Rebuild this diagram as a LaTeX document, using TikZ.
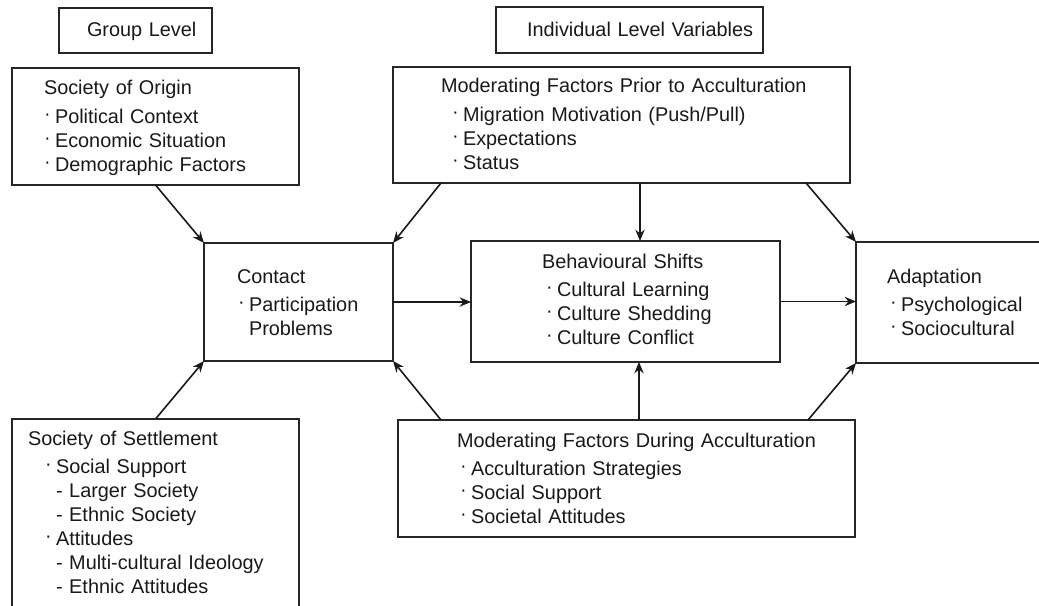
\documentclass[tikz,border=0pt]{standalone}
\usepackage{fontspec}
\setmainfont{Liberation Sans}
\usetikzlibrary{arrows.meta,fit}
\newlength\px
\setlength\px{0.75pt}
% list bullet: raised middle dot followed by a fixed gap
\newcommand\bul{\makebox[11\px][l]{\raisebox{2.7pt}{·}}}
\begin{document}
\begin{tikzpicture}[x=\px, y=-\px,
  box/.style={draw=black!85, line width=1.3pt, inner sep=0pt, outer sep=0pt},
  txt/.style={inner sep=0pt, outer sep=0pt, anchor=base west, align=left,
    text width=420\px, font=\fontsize{14.9pt}{18pt}\selectfont, text=black!90},
  arr/.style={draw=black!90, line width=1.2pt, -{Stealth[length=8.5pt,width=7pt]}}]
\useasboundingbox (0,0) rectangle (1039,606);
\clip (0,0) rectangle (1039,606);

% level headings
\node[box, fit={(59,8) (212,53)}] (grp) {};
\node[txt] (grptxt) at (87,37) {Group Level};
\node[box, fit={(496,7) (763,53)}] (ind) {};
\node[txt] (indtxt) at (527,37) {Individual Level Variables};

% group level boxes
\node[box, fit={(12,68) (299,185)}] (origin) {};
\node[txt] (origintxt) at (44,95) {Society of Origin\\[3.5pt]
  \bul Political Context\\
  \bul Economic Situation\\
  \bul Demographic Factors};

\node[box, fit={(12,419) (299,640)}] (settle) {};
\node[txt] (settletxt) at (28,445) {Society of Settlement\\[3.5pt]
  \hspace*{17\px}\bul Social Support\\
  \hspace*{28\px}- Larger Society\\
  \hspace*{28\px}- Ethnic Society\\
  \hspace*{17\px}\bul Attitudes\\
  \hspace*{28\px}- Multi-cultural Ideology\\
  \hspace*{28\px}- Ethnic Attitudes};

% individual level boxes
\node[box, fit={(393,67) (850,183)}] (prior) {};
\node[txt] (priortxt) at (441,93) {Moderating Factors Prior to Acculturation\\[3.5pt]
  \hspace*{11\px}\bul Migration Motivation (Push/Pull)\\
  \hspace*{11\px}\bul Expectations\\
  \hspace*{11\px}\bul Status};

\node[box, fit={(204,243) (393,361)}] (contact) {};
\node[txt] (contacttxt) at (237,283) {Contact\\[3.5pt]
  \hspace*{1\px}\bul Participation\\
  \hspace*{12\px}Problems};

\node[box, fit={(471,241) (780,362)}] (behav) {};
\node[txt] (behavtxt) at (542,268) {Behavioural Shifts\\[3.5pt]
  \hspace*{4\px}\bul Cultural Learning\\
  \hspace*{4\px}\bul Culture Shedding\\
  \hspace*{4\px}\bul Culture Conflict};

\node[box, fit={(856,242) (1080,363)}] (adapt) {};
\node[txt] (adapttxt) at (887,283) {Adaptation\\[3.5pt]
  \hspace*{3\px}\bul Psychological\\
  \hspace*{3\px}\bul Sociocultural};

\node[box, fit={(398,420) (855,537)}] (during) {};
\node[txt] (duringtxt) at (457,447) {Moderating Factors During Acculturation\\[3.5pt]
  \hspace*{3\px}\bul Acculturation Strategies\\
  \hspace*{3\px}\bul Social Support\\
  \hspace*{3\px}\bul Societal Attitudes};

% x positions where connectors leave the long boxes
\coordinate (xa) at (441,0);
\coordinate (xb) at (640,0);
\coordinate (xc) at (806,0);
\coordinate (xd) at (639,0);
\coordinate (xe) at (808,0);

% connectors
\draw[arr] (origin.south) -- (contact.north west);
\draw[arr] (settle.north) -- (contact.south west);
\draw[arr] (prior.south -| xa) -- (contact.north east);
\draw[arr] (prior.south -| xb) -- (behav.north -| xb);
\draw[arr] (prior.south -| xc) -- (adapt.north west);
\draw[arr] (during.north -| xa) -- (contact.south east);
\draw[arr] (during.north -| xd) -- (behav.south -| xd);
\draw[arr] (during.north -| xe) -- (adapt.south west);
\draw[arr] (contact.east) -- (contact.east -| behav.west);
\draw[arr] (behav.east) -- (behav.east -| adapt.west);
\end{tikzpicture}
\end{document}
